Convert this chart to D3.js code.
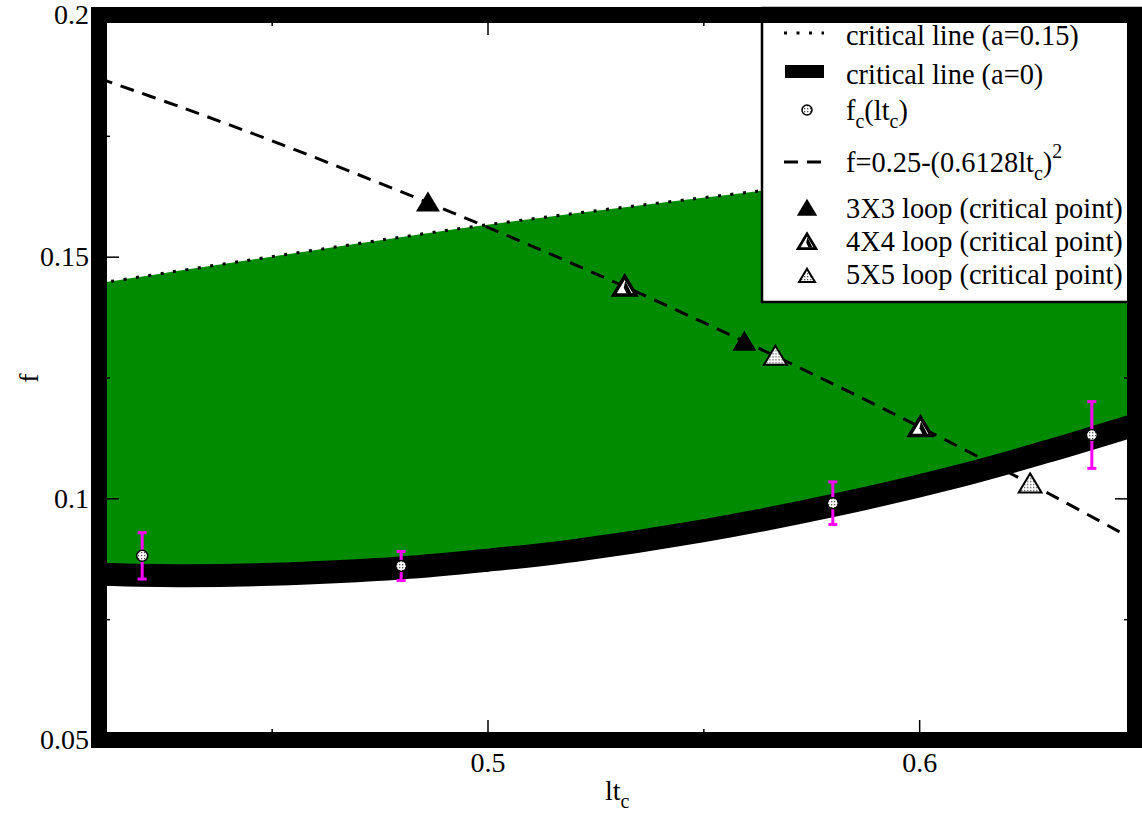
<!DOCTYPE html>
<html>
<head>
<meta charset="utf-8">
<script src="https://cdn.jsdelivr.net/npm/d3@7"></script>
</head>
<body style="margin:0; background:#fff">
<div id="container"></div>
<script>
var scene_width = 1142, scene_height = 814
var serif = 'Liberation Serif'

// critical line (a=0.15), dotted
var ltA15 = [0.41, 0.45, 0.50, 0.563, 0.60, 0.65]
var fA15  = [0.1445, 0.1500, 0.1566, 0.1636, 0.1674, 0.1720]

// critical line (a=0), thick black
var ltA0 = [0.41, 0.43, 0.45, 0.48, 0.50, 0.52, 0.55, 0.58, 0.61, 0.63, 0.65]
var fA0  = [0.0843, 0.0840, 0.0843, 0.0856, 0.0872, 0.0892, 0.0933, 0.0985, 0.1048, 0.1098, 0.1152]

// f=0.25-(0.6128lt_c)^2, dashed
var ltFit = [0.41, 0.43, 0.45, 0.47, 0.49, 0.51, 0.53, 0.55, 0.57, 0.59, 0.61, 0.63, 0.65]
var fFit  = [0.1869, 0.1806, 0.1740, 0.1670, 0.1598, 0.1523, 0.1445, 0.1364, 0.1280, 0.1193, 0.1103, 0.1010, 0.0913]

// f_c(lt_c) with error bars
var ltC  = [0.42, 0.48, 0.58, 0.64]
var fC   = [0.0881, 0.0860, 0.0990, 0.1131]
var fErr = [0.0048, 0.0030, 0.0044, 0.0069]

// loop critical points
var lt3 = [0.4862, 0.5595], f3 = [0.1612, 0.1324]
var lt4 = [0.5318, 0.6003], f4 = [0.1438, 0.1147]
var lt5 = [0.5667, 0.6257], f5 = [0.1294, 0.1030]

var yMajor = [0.05, 0.1, 0.15, 0.2], yMinor = [0.075, 0.125, 0.175]
var xMajor = [0.5, 0.6], xMinor = [0.45, 0.55]

var green = '#008b00'

var x = d3.scaleLinear().domain([0.41, 0.65]).range([99, 1135])
var y = d3.scaleLinear().domain([0.05, 0.2]).range([740, 15])

var svg = d3.select('#container').append('svg')
    .attr('width', scene_width)
    .attr('height', scene_height)
    .attr('font-family', serif)

var defs = svg.append('defs')
defs.append('clipPath').attr('id', 'plotclip')
    .append('rect').attr('x', 99).attr('y', 15).attr('width', 1036).attr('height', 725)

var dots = defs.append('pattern').attr('id', 'dots')
    .attr('patternUnits', 'userSpaceOnUse').attr('width', 3).attr('height', 3)
dots.append('rect').attr('width', 3).attr('height', 3).attr('fill', '#fff')
dots.append('rect').attr('width', 1.3).attr('height', 1.3).attr('fill', '#555')

function pts(xs, ys) { return xs.map((d, i) => [d, ys[i]]) }

var line = d3.line().x(d => x(d[0])).y(d => y(d[1])).curve(d3.curveCatmullRom)

var plot = svg.append('g').attr('clip-path', 'url(#plotclip)')

// green band between the two critical lines
var upper = pts(ltA15, fA15), lower = pts(ltA0, fA0).reverse()
plot.append('path')
    .attr('d', line(upper) + 'L' + line(lower).slice(1) + 'Z')
    .attr('fill', green)

plot.append('path').attr('d', line(upper))
    .attr('fill', 'none').attr('stroke', '#000').attr('stroke-width', 3)
    .attr('stroke-dasharray', '3,9.5')

plot.append('path').attr('d', line(pts(ltA0, fA0)))
    .attr('fill', 'none').attr('stroke', '#000').attr('stroke-width', 23)

plot.append('path').attr('d', line(pts(ltFit, fFit)))
    .attr('fill', 'none').attr('stroke', '#000').attr('stroke-width', 3)
    .attr('stroke-dasharray', '14,9')

function triPath(s) {
    var w = 12 * s, h = 11 * s, b = 9 * s
    return 'M0,' + (-h) + 'L' + w + ',' + b + 'L' + (-w) + ',' + b + 'Z'
}

function drawTri(g, kind, s) {
    if (kind == 3) {
        g.append('path').attr('d', triPath(s)).attr('fill', '#000')
    } else if (kind == 4) {
        g.append('path').attr('d', triPath(s * 0.92)).attr('fill', '#fff')
            .attr('stroke', '#000').attr('stroke-width', 3.5 * s).attr('stroke-linejoin', 'miter')
        g.append('path').attr('d', 'M' + (0.5 * s) + ',' + (-6 * s) + 'L' + (7 * s) + ',' + (7 * s) + 'L' + (2 * s) + ',' + (7 * s) + 'L' + (-1 * s) + ',' + (1 * s) + 'Z')
            .attr('fill', '#000')
    } else {
        g.append('path').attr('d', triPath(s * 0.95)).attr('fill', 'url(#dots)')
            .attr('stroke', '#000').attr('stroke-width', 2)
    }
}

function triangles(xs, ys, kind) {
    xs.forEach(function (d, i) {
        var g = plot.append('g').attr('transform', 'translate(' + x(d) + ',' + y(ys[i]) + ')')
        drawTri(g, kind, 1)
    })
}
triangles(lt3, f3, 3)
triangles(lt4, f4, 4)
triangles(lt5, f5, 5)

// error bars and points
var eb = plot.selectAll('.eb').data(pts(ltC, fC)).enter().append('g')
eb.append('line')
    .attr('x1', d => x(d[0])).attr('x2', d => x(d[0]))
    .attr('y1', (d, i) => y(d[1] + fErr[i])).attr('y2', (d, i) => y(d[1] - fErr[i]))
    .attr('stroke', '#ff00ff').attr('stroke-width', 3)
eb.append('line')
    .attr('x1', d => x(d[0]) - 4.5).attr('x2', d => x(d[0]) + 4.5)
    .attr('y1', (d, i) => y(d[1] + fErr[i])).attr('y2', (d, i) => y(d[1] + fErr[i]))
    .attr('stroke', '#ff00ff').attr('stroke-width', 3)
eb.append('line')
    .attr('x1', d => x(d[0]) - 4.5).attr('x2', d => x(d[0]) + 4.5)
    .attr('y1', (d, i) => y(d[1] - fErr[i])).attr('y2', (d, i) => y(d[1] - fErr[i]))
    .attr('stroke', '#ff00ff').attr('stroke-width', 3)
eb.append('circle')
    .attr('cx', d => x(d[0])).attr('cy', d => y(d[1])).attr('r', 5.5)
    .attr('fill', 'url(#dots)').attr('stroke', '#000').attr('stroke-width', 1.5)

// ticks on all four sides
var fmt = d3.format('~g')
function ticks(axis, tr, vals, size, labels, pad) {
    var a = axis.tickValues(vals).tickSize(size).tickPadding(pad || 0)
        .tickFormat(labels ? fmt : '')
    var g = svg.append('g').attr('transform', tr).call(a)
    g.attr('font-family', serif).attr('font-size', 28)
    g.select('.domain').remove()
    g.selectAll('.tick line').attr('stroke', '#000').attr('stroke-width', 1.5)
    g.selectAll('.tick text').attr('fill', '#000').attr('font-family', serif)
    return g
}
ticks(d3.axisLeft(y), 'translate(99,0)', yMajor, -20, true, 10)
ticks(d3.axisLeft(y), 'translate(99,0)', yMinor, -11, false)
ticks(d3.axisRight(y), 'translate(1135,0)', yMajor, -20, false)
ticks(d3.axisRight(y), 'translate(1135,0)', yMinor, -11, false)
ticks(d3.axisBottom(x), 'translate(0,740)', xMajor, -20, true, 12)
ticks(d3.axisBottom(x), 'translate(0,740)', xMinor, -11, false)
ticks(d3.axisTop(x), 'translate(0,15)', xMajor, -20, false)
ticks(d3.axisTop(x), 'translate(0,15)', xMinor, -11, false)

// axis titles
svg.append('text').attr('transform', 'translate(38,378) rotate(-90)')
    .attr('text-anchor', 'middle').attr('font-size', 28)
    .attr('font-family', serif).text('f')
var xt = svg.append('text').attr('x', 605).attr('y', 800).attr('font-size', 28)
    .attr('font-family', serif)
xt.append('tspan').text('lt')
xt.append('tspan').attr('font-size', 20).attr('dy', 8).text('c')

// legend
var leg = svg.append('g')
leg.append('rect').attr('x', 762).attr('y', 8).attr('width', 390).attr('height', 294)
    .attr('fill', '#fff').attr('stroke', '#000').attr('stroke-width', 2.5)

leg.append('line').attr('x1', 784).attr('x2', 824).attr('y1', 33).attr('y2', 33)
    .attr('stroke', '#000').attr('stroke-width', 3).attr('stroke-dasharray', '3,9.5')
leg.append('rect').attr('x', 785).attr('y', 65).attr('width', 39).attr('height', 13).attr('fill', '#000')
leg.append('circle').attr('cx', 807).attr('cy', 110).attr('r', 5)
    .attr('fill', 'url(#dots)').attr('stroke', '#000').attr('stroke-width', 1.5)
leg.append('line').attr('x1', 784).attr('x2', 823).attr('y1', 162).attr('y2', 162)
    .attr('stroke', '#000').attr('stroke-width', 3).attr('stroke-dasharray', '14,9')
drawTri(leg.append('g').attr('transform', 'translate(807,208)'), 3, 0.85)
drawTri(leg.append('g').attr('transform', 'translate(807,242)'), 4, 0.8)
drawTri(leg.append('g').attr('transform', 'translate(807,276)'), 5, 0.7)

function legText(yy, parts) {
    var t = leg.append('text').attr('x', 846).attr('y', yy).attr('font-size', 28.4)
        .attr('font-family', serif)
    parts.forEach(function (p) {
        var s = t.append('tspan').text(p[0])
        if (p[1] == 'sub') s.attr('font-size', 20).attr('dy', 8)
        if (p[1] == 'up') s.attr('dy', -8)
        if (p[1] == 'sup') s.attr('font-size', 20).attr('dy', -14)
    })
}
legText(45, [['critical line (a=0.15)']])
legText(84, [['critical line (a=0)']])
legText(120, [['f'], ['c', 'sub'], ['(lt', 'up'], ['c', 'sub'], [')', 'up']])
legText(172, [['f=0.25-(0.6128lt'], ['c', 'sub'], [')', 'up'], ['2', 'sup']])
legText(218, [['3X3 loop (critical point)']])
legText(251, [['4X4 loop (critical point)']])
legText(284, [['5X5 loop (critical point)']])

// thick frame
svg.append('rect').attr('x', 99).attr('y', 15).attr('width', 1036).attr('height', 725)
    .attr('fill', 'none').attr('stroke', '#000').attr('stroke-width', 16)
</script>
</body>
</html>
